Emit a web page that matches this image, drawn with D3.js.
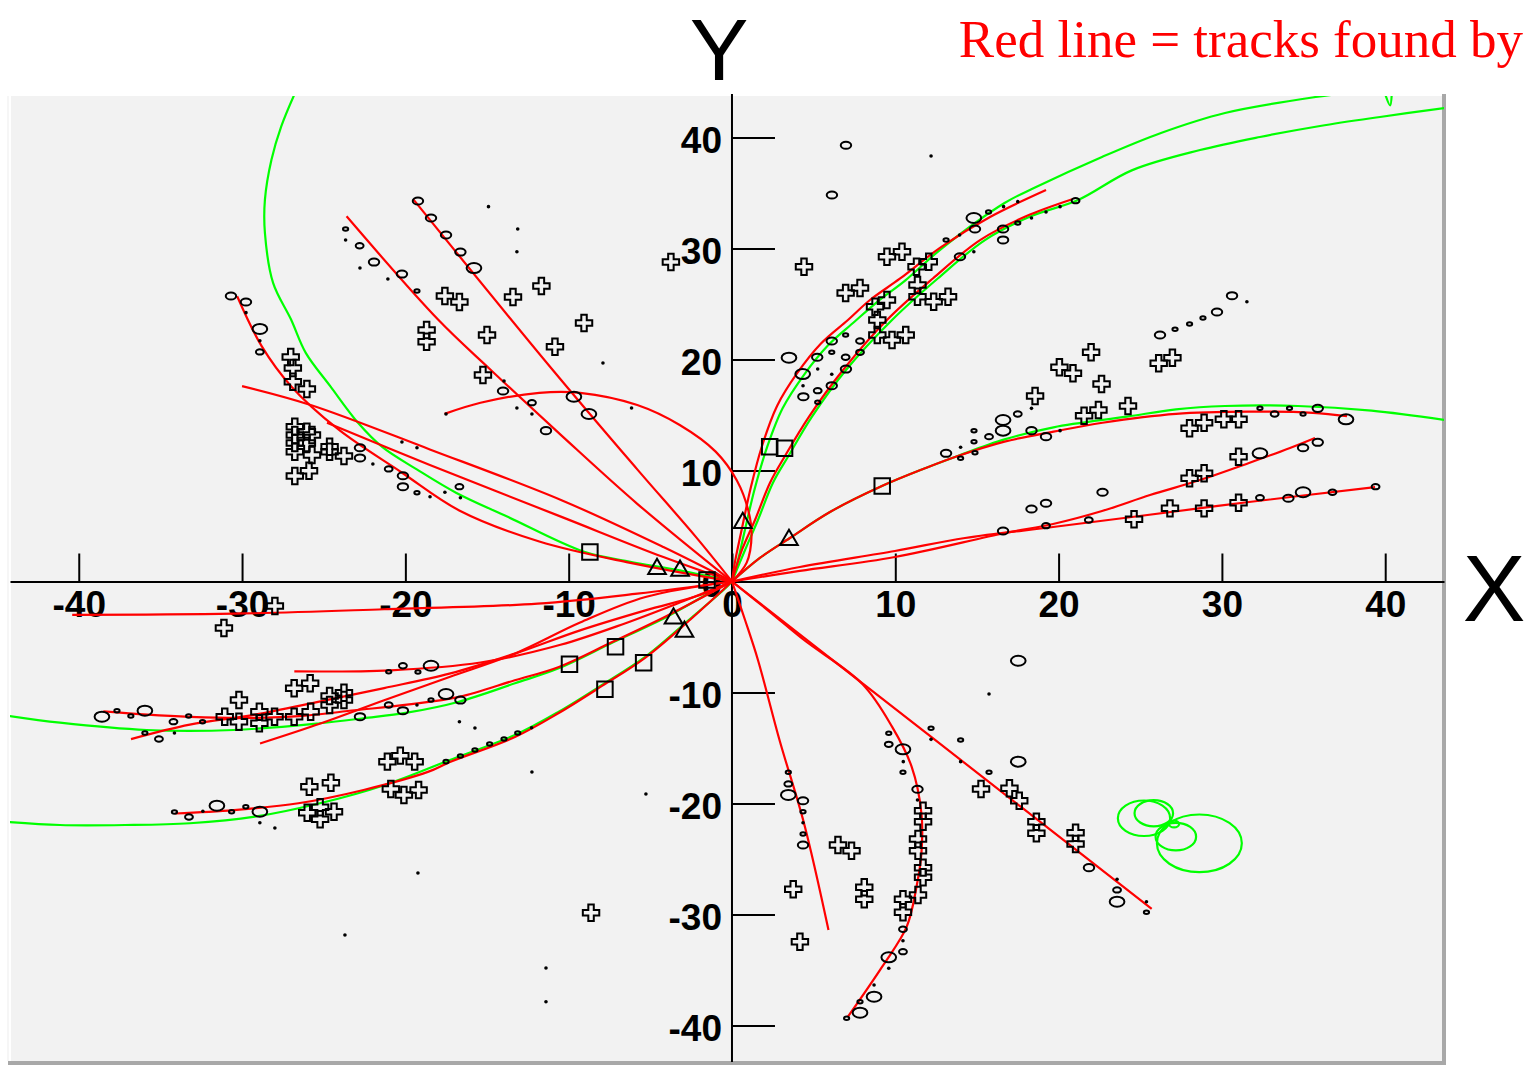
<!DOCTYPE html>
<html>
<head>
<meta charset="utf-8">
<script src="https://cdn.jsdelivr.net/npm/d3@7"></script>
<style>
  body { margin: 0; background: #ffffff; }
  svg { display: block; }
</style>
</head>
<body>
<svg id="chart" width="1527" height="1065"></svg>
<script>
// event display, x-y view: reconstructed tracks (red), simulated tracks (green), detector hits

const RED = '#ff0000';
const GREEN = '#00ff00';
const FRAME_BG = '#f2f2f2';
const FRAME_EDGE = '#a8a8a8';

const xTicks = [-40, -30, -20, -10, 0, 10, 20, 30, 40];
const yTicks = [-40, -30, -20, -10, 0, 10, 20, 30, 40];

// red: found tracks
const trackR1 = [[-19.5,34.4],[-11.0,19.1],[-5.8,10.1],[-2.2,4.0],[0,0]];
const trackR2 = [[-23.6,32.9],[-18.0,23.6],[-14.8,19.1],[-10.4,13.1],[-5.8,7.0],[0,0]];
const trackR3 = [[-30.3,25.7],[-28.8,21.2],[-27.0,17.6],[-24.1,13.7],[-20.2,9.8],[-16.7,6.4],[-11.8,3.6],[-6.3,1.7],[0,0]];
const trackR4 = [[-30.0,17.6],[-25.8,15.9],[-18.5,11.9],[-10.4,7.3],[-4.2,3.1],[0,0]];
const trackR5 = [[-24.8,14.3],[-18.5,10.5],[-10.4,5.8],[-4.2,2.2],[0,0]];
const trackR6 = [[-17.6,15.1],[-15.4,16.1],[-11.8,17.0],[-9.3,17.0],[-5.8,15.9],[-3.2,14.1],[-1.0,11.7],[0.3,9.1],[1.0,6.4],[1.2,4.2],[0.9,1.7],[0,0]];
const trackR8 = [[0,0],[0.2,1.9],[0.55,4.37],[1.16,8.51],[1.84,12.21],[2.76,15.81],[3.98,18.74],[5.45,21.44],[7.10,23.56],[8.45,25.36],[10.3,27.3],[12.8,30.13],[15.8,32.84],[19.23,35.27]];
const trackR9 = [[0,0],[0.61,2.84],[1.41,5.54],[2.33,8.9],[3.22,11.24],[4.72,14.85],[6.80,19.05],[9.49,23.56],[12.3,27.3],[15.19,30.76],[18.0,32.9],[20.88,34.46]];
const trackR10 = [[0,0],[1.71,2.12],[3.55,3.92],[6.0,6.26],[9.18,8.6],[11.82,10.2],[13.7,11.24],[16.69,12.6],[19.69,13.5],[22.69,14.3],[27.19,15.1],[31.66,15.3],[35.58,15.2],[37.66,14.9]];
const trackR11 = [[0,0],[4.16,0.95],[9.98,2.21],[16.72,4.37],[19.66,5.18],[22.66,6.35],[25.6,7.79],[28.66,9.14],[31.66,10.68],[34.17,12.03],[35.7,12.93]];
const trackR12 = [[0,0],[4.16,1.31],[9.98,2.75],[14.27,3.92],[19.66,4.91],[24.49,5.81],[31.66,7.16],[39.38,8.51]];
const trackR14 = [[-40.4,-3.0],[-30.5,-2.9],[-21.3,-2.5],[-11.9,-2.0],[-5.8,-1.1],[0,0]];
const trackR15 = [[-26.8,-8.1],[-20.9,-8.0],[-15.4,-7.3],[-10.5,-5.7],[-6.6,-3.8],[-3.2,-1.9],[0,0]];
const trackR16 = [[-38.5,-11.7],[-35.8,-12.0],[-33.2,-12.2],[-30.0,-12.3],[-26.3,-12.1],[-23.1,-11.6],[-19.9,-11.1],[-16.7,-10.4],[-13.3,-8.9],[-10.6,-7.7],[-7.4,-5.5],[-4.0,-3.1],[0,0]];
const trackRc = [[-36.8,-14.2],[-33.2,-12.9],[-29.2,-12.0],[-25.2,-10.8],[-21.3,-9.6],[-17.3,-8.3],[-13.3,-6.5],[-9.3,-4.4],[-5.3,-2.6],[-1.9,-1.2],[0,0]];
const trackRd = [[-28.9,-14.6],[-25.2,-12.8],[-21.3,-10.7],[-17.3,-8.6],[-13.3,-6.5],[-9.3,-3.7],[-5.3,-1.4],[0,0]];
const trackR17 = [[-34.1,-20.9],[-30.5,-20.6],[-26.55,-19.98],[-22.56,-18.78],[-18.58,-17.13],[-17.27,-16.26],[-13.29,-14.01],[-10.61,-11.85],[-7.96,-9.41],[-5.3,-6.85],[-2.65,-3.56],[0,0]];
const trackR18 = [[0,0],[0.8,-3.47],[1.59,-7.07],[2.91,-14.28],[4.41,-21.78],[5.91,-31.4]];
const trackR19 = [[0,0],[2.33,-2.75],[4.41,-5.27],[8.0,-9.26],[9.8,-13.08],[11.0,-16.68],[11.6,-20.88],[11.6,-24.49],[11.3,-27.5],[10.7,-31.1],[9.2,-34.7],[7.1,-39.21]];
const trackR20 = [[0,0],[12.2,-14.0],[25.7,-29.5]];

// green: simulated tracks
const trackG1 = [[0,0],[0.37,1.94],[0.75,4.37],[1.4,8.4],[2.15,12.1],[3.1,15.6],[4.4,18.6],[5.9,21.3],[7.5,23.4],[8.9,25.2],[10.6,27.1],[12.8,29.95],[16.69,34.1],[18.49,35.45],[22.69,38.27],[26.27,40.41],[30.19,42.21],[35.88,43.68],[37.66,44.01],[39.5,44.4]];
const trackG2 = [[0,0],[0.8,2.84],[1.59,5.54],[2.51,8.9],[3.43,11.24],[4.9,14.85],[6.98,19.05],[9.8,23.56],[12.6,27.3],[15.49,30.76],[18.3,32.9],[21.19,34.37],[24.48,37.04],[28.66,38.87],[32.33,40.05],[36.01,41.04],[39.68,41.85],[43.66,42.66]];
const trackG3 = [[0,0],[1.71,2.12],[3.55,3.92],[6.0,6.26],[9.18,8.6],[11.82,10.2],[13.7,11.24],[16.69,12.8],[19.69,13.89],[24.19,14.85],[27.19,15.51],[30.18,15.81],[34.66,15.81],[39.16,15.39],[43.66,14.55]];
const trackG4 = [[-26.7,44.2],[-27.6,41.0],[-28.2,38.0],[-28.6,34.4],[-28.6,31.4],[-28.1,26.9],[-27.0,23.6],[-26.1,20.6],[-24.6,17.6],[-22.9,14.3],[-21.4,12.1],[-19.3,10.1],[-16.9,8.0],[-13.7,5.8],[-9.1,2.7],[-6.3,1.8],[-3.2,1.0],[0,0]];
const trackG5 = [[-44.3,-12.1],[-41.15,-12.72],[-35.84,-13.38],[-30.53,-13.38],[-25.23,-12.77],[-22.56,-12.32],[-19.9,-11.82],[-16.72,-10.83],[-13.29,-9.17],[-10.61,-7.82],[-7.43,-5.59],[-3.98,-3.17],[-1.05,-0.77],[0,0]];
const trackG6 = [[-44.3,-21.67],[-41.15,-21.94],[-37.17,-21.94],[-33.19,-21.78],[-29.21,-21.19],[-25.23,-19.98],[-21.25,-18.33],[-17.27,-16.08],[-13.29,-13.83],[-10.61,-11.73],[-7.96,-9.32],[-5.3,-6.77],[-2.65,-3.47],[-0.52,-0.77],[0,0]];
const trackG7 = [[40.0,43.9],[40.3,42.9],[40.4,43.9]];

// green curling track, loops as [cx, cy, r]
const greenLoops = [[28.62,-23.59,2.6],[25.23,-21.33,1.6],[25.83,-20.88,1.18],[27.18,-22.99,1.24],[27.07,-21.85,0.31]];

const redTracks = [trackR1, trackR2, trackR3, trackR4, trackR5, trackR6, trackR8, trackR9, trackR10, trackR11, trackR12,
                   trackR14, trackR15, trackR16, trackRc, trackRd, trackR17, trackR18, trackR19, trackR20];
const greenTracks = [trackG1, trackG2, trackG3, trackG4, trackG5, trackG6, trackG7];

// hits: [x, y, size class]
const ringHits = [
  [-19.23,34.28,3],[-18.43,32.75,3],[-17.51,31.22,3],[-16.63,29.68,3],[-15.80,28.24,4],
  [-23.66,31.76,1],[-22.80,30.25,2],[-21.92,28.78,3],[-20.21,27.70,3],[-19.29,26.17,1],
  [-30.68,25.72,3],[-29.76,25.18,3],[-28.91,22.75,4],[-28.91,20.68,2],[-22.78,12.05,3],[-22.78,11.13,3],
  [-21.02,10.14,2],[-20.15,9.53,3],[-20.15,8.54,3],[-19.29,8.00,1],[-16.69,8.54,2],
  [-14.02,17.16,3],[-12.25,16.11,2],[-9.68,16.65,4],[-8.76,15.09,4],[-11.39,13.59,3],
  [6.98,39.30,3],[6.12,34.82,3],
  [3.49,20.16,4],[4.33,18.69,4],[5.22,20.20,3],[6.11,21.67,3],[6.96,22.21,1],[6.11,20.65,1],[4.37,16.65,3],
  [5.25,16.14,1],[5.25,17.19,2],[6.11,17.64,3],[6.98,19.14,3],[6.96,20.20,2],[7.84,21.67,2],[7.84,20.65,2],
  [14.81,32.75,4],[15.71,33.29,1],[14.88,31.76,3],[16.60,31.76,3],[16.60,30.77,3],[13.96,29.26,3],[17.50,32.30,1],
  [21.04,34.31,2],[13.11,30.77,1],
  [13.11,11.55,3],[14.00,11.10,1],[14.88,11.60,1],[14.82,12.59,1],[14.82,13.59,1],[15.74,13.05,2],[16.60,13.59,4],
  [16.60,14.55,4],[17.50,15.09,2],[18.34,13.59,3],[19.23,13.05,3],
  [32.33,15.60,1],[33.23,15.09,2],[34.14,15.60,1],[34.97,15.09,1],[35.87,15.60,3],[37.60,14.61,4],
  [26.21,22.21,3],[27.13,22.72,1],[28.02,23.20,1],[30.62,25.75,3],[29.70,24.28,3],[28.84,23.74,1],
  [32.33,11.55,4],[34.97,12.05,3],[35.87,12.54,3],[22.69,8.04,3],[18.34,6.53,3],[19.23,7.05,3],[16.60,4.55,3],
  [19.23,5.03,2],[21.85,5.54,2],[34.07,7.50,3],[34.97,8.04,4],[36.77,8.04,2],[39.41,8.54,2],[32.33,7.55,2],
  [17.53,-7.14,4],[17.53,-16.23,4],[12.19,-13.23,1],[14.00,-14.28,1],[15.74,-17.19,1],[21.86,-25.78,3],
  [23.58,-27.79,2],[23.58,-28.85,4],[25.38,-29.80,1],
  [9.60,-13.68,1],[9.60,-14.67,2],[10.47,-15.12,4],[10.47,-17.19,1],[11.36,-18.72,3],
  [3.45,-17.19,1],[3.45,-18.24,2],[3.45,-19.23,4],[4.35,-19.75,3],[4.35,-20.74,1],[4.35,-22.75,1],[4.35,-23.74,3],
  [10.47,-31.33,2],[10.47,-33.35,2],[9.60,-33.86,4],[8.70,-37.41,4],[7.84,-38.85,4],[7.84,-37.86,1],[7.02,-39.35,1],
  [-38.58,-12.18,4],[-37.66,-11.64,1],[-36.81,-12.12,1],[-35.95,-11.64,4],[-34.20,-12.63,2],[-35.09,-14.19,2],
  [-35.95,-13.65,1],[-32.42,-12.63,1],[-33.27,-12.12,1],
  [-21.02,-8.13,1],[-20.15,-7.59,2],[-19.23,-8.15,1],[-18.43,-7.59,4],[-21.02,-11.13,2],[-20.15,-11.64,3],
  [-18.43,-10.68,1],[-17.51,-10.14,4],[-16.63,-10.68,3],[-22.78,-12.18,3],
  [-34.14,-20.77,1],[-33.25,-21.22,2],[-31.54,-20.20,4],[-30.64,-20.74,1],[-29.77,-20.29,1],[-28.91,-20.74,4],
  [-17.51,-16.23,1],[-16.63,-15.72,1],[-15.74,-15.18,1],[-14.84,-14.64,1],[-13.96,-14.19,1],[-13.12,-13.65,1]
];

const dotHits = [
  [-23.66,30.77],[-21.07,27.25],[-22.78,28.24],[-14.91,33.77],[-13.17,29.71],[-13.12,31.76],
  [-29.76,24.22],[-28.91,21.69],
  [-20.21,12.57],[-19.29,12.05],[-21.99,10.59],[-16.63,7.55],[-18.49,7.64],[-17.58,8.04],[-17.51,15.09],[-13.96,18.07],
  [-7.90,19.68],[-13.17,15.63],[-12.25,15.09],[-6.15,15.63],
  [12.19,38.33],
  [5.25,19.14],[6.11,18.67],[4.35,17.64],
  [14.81,29.71],[18.34,32.75],[19.23,33.29],[20.09,33.77],[16.63,33.77],[17.50,34.22],[13.94,31.22],
  [18.34,15.60],[20.09,13.59],[14.00,12.09],[31.53,25.21],
  [15.74,-10.14],[4.35,-21.73],[10.47,-32.36],[9.60,-34.85],[8.70,-36.35],[12.19,-14.22],[14.00,-16.23],
  [10.49,-16.23],[11.36,-19.68],[25.38,-28.85],[23.58,-26.83],
  [-34.14,-13.65],[-16.69,-12.63],[-15.74,-13.20],[-19.29,-11.13],[-28.91,-21.73],[-27.99,-22.21],[-12.25,-17.16],
  [-5.27,-19.14],[-19.23,-26.26],[-23.70,-31.85],[-11.39,-34.82],[-11.39,-37.86],[-12.27,-13.17],[-32.4,-20.7]
];

const crossHits = [
  [-17.58,25.72],[-16.69,25.18],[-13.41,25.63],[-11.67,26.62],[-3.74,28.78],[-9.06,23.29],[-18.70,22.66],[-18.70,21.60],
  [-15.00,22.21],[-10.84,21.15],[-15.25,18.60],
  [-27.02,20.23],[-26.89,19.23],[-26.89,18.00],[-26.03,17.34],
  [-26.77,13.95],[-26.77,13.20],[-26.03,13.50],[-25.72,13.20],[-26.77,12.48],[-26.03,12.48],[-26.77,11.69],[-25.72,11.40],
  [-24.64,12.14],[-24.64,11.69],[-23.76,11.31],[-26.77,9.51],[-25.90,9.98],
  [-27.99,-2.21],[-31.11,-4.19],
  [-30.19,-10.68],[-26.81,-9.62],[-25.83,-9.17],[-31.06,-12.18],[-30.19,-12.63],[-28.94,-11.73],[-28.94,-12.77],
  [-28.01,-12.18],[-26.81,-12.18],[-25.80,-11.73],[-24.64,-10.32],[-23.76,-10.02],[-24.64,-11.13],[-23.76,-10.68],
  [-21.10,-16.23],[-20.31,-15.69],[-19.43,-16.23],[-25.88,-18.49],[-24.56,-18.13],[-20.89,-18.69],[-20.09,-19.23],
  [-19.19,-18.78],[-26.01,-20.83],[-25.22,-20.34],[-24.37,-20.74],[-25.22,-21.42],
  [-8.63,-29.84],
  [4.41,28.36],[9.49,29.26],[10.41,29.71],[11.30,28.36],[12.05,28.81],[11.36,26.71],[6.96,25.99],[7.84,26.44],
  [8.76,24.76],[9.49,25.36],[11.36,25.66],[12.35,25.21],[13.23,25.66],[8.90,23.56],[8.90,22.21],[9.80,21.76],[10.64,22.21],
  [18.56,16.71],[20.05,19.30],[20.88,18.76],[21.99,20.65],[22.63,17.79],[24.25,15.81],[21.56,14.94],[22.44,15.45],
  [26.13,19.66],[26.97,20.16],[28.02,13.80],[28.91,14.31],[30.12,14.61],[31.02,14.61],
  [31.02,11.24],[28.02,9.30],[28.91,9.75],[24.62,5.60],[26.82,6.59],[28.91,6.59],[31.02,7.10],
  [15.25,-18.69],[16.99,-18.63],[17.59,-19.75],[18.64,-21.64],[18.64,-22.68],[21.04,-22.63],[21.04,-23.65],
  [11.70,-20.65],[11.70,-21.64],[11.39,-23.20],[11.39,-24.25],[11.70,-25.78],[11.70,-26.65],[11.39,-28.24],
  [10.47,-28.63],[10.47,-29.80],[6.49,-23.74],[7.32,-24.25],[8.10,-27.55],[8.10,-28.63],[3.75,-27.73],[4.16,-32.45]
];

const squareHits = [[-8.70,2.66],[2.31,12.14],[3.22,12.00],[9.20,8.60],[-9.95,-7.46],[-7.13,-5.87],[-5.41,-7.32],[-7.78,-9.71],[-1.53,0.14]];
const triangleHits = [[-4.59,1.13],[-3.18,0.97],[-3.58,-3.32],[-2.91,-4.52],[3.49,3.74],[0.66,5.27]];

// ---------------------------------------------------------------

const plot = {left: 10, top: 96, right: 1444, bottom: 1061};

const x = d3.scaleLinear().domain([-44.21, 43.60]).range([plot.left, plot.right]);
const y = d3.scaleLinear().domain([-43.20, 43.74]).range([plot.bottom, plot.top]);
const ringR = d3.scaleOrdinal().domain([1, 2, 3, 4]).range([0.16, 0.24, 0.32, 0.45]);

const svg = d3.select('#chart');

svg.append('defs').append('clipPath').attr('id', 'clip')
  .append('rect')
  .attr('x', plot.left).attr('y', plot.top)
  .attr('width', plot.right - plot.left).attr('height', plot.bottom - plot.top);

// frame
svg.append('rect')
  .attr('x', 11).attr('y', 96).attr('width', 1431).attr('height', 965)
  .attr('fill', FRAME_BG);
svg.append('rect')
  .attr('x', 1442).attr('y', 94).attr('width', 4).attr('height', 971)
  .attr('fill', FRAME_EDGE);
svg.append('rect')
  .attr('x', 8).attr('y', 1061).attr('width', 1438).attr('height', 4)
  .attr('fill', FRAME_EDGE);
svg.append('rect')
  .attr('x', 7).attr('y', 96).attr('width', 2).attr('height', 965)
  .attr('fill', '#f6f6f6');

// axes
const labelFont = "bold 37px 'Liberation Sans', Arial, sans-serif";
const minorX = d3.range(-44, 44, 2).filter(v => v % 10 !== 0);
const minorY = d3.range(-42, 44, 2).filter(v => v % 10 !== 0);

const gx = svg.append('g').attr('transform', `translate(0,${y(0)})`);
gx.call(d3.axisTop(x).tickValues(minorX).tickSize(14).tickSizeOuter(0).tickFormat(''));
gx.call(d3.axisTop(x).tickValues(xTicks).tickSize(28).tickSizeOuter(0).tickFormat(d => String(d)));
gx.selectAll('path.domain').attr('stroke-width', 2).attr('stroke', '#000');
gx.selectAll('.tick line').attr('stroke-width', 2).attr('stroke', '#000');
gx.selectAll('.tick text')
  .attr('y', 36).attr('dy', '0')
  .style('font', labelFont).attr('fill', '#000');

const gy = svg.append('g').attr('transform', `translate(${x(0)},0)`);
gy.call(d3.axisRight(y).tickValues(minorY).tickSize(21).tickSizeOuter(0).tickFormat(''));
gy.call(d3.axisRight(y).tickValues(yTicks).tickSize(43).tickSizeOuter(0).tickFormat(d => String(d)));
gy.selectAll('path.domain').attr('stroke-width', 2).attr('stroke', '#000')
  .attr('d', `M0,${plot.top - 2}V${plot.bottom + 1}`);
gy.selectAll('.tick line').attr('stroke-width', 2).attr('stroke', '#000');
gy.selectAll('.tick text')
  .attr('x', -10).attr('dy', '0.4em')
  .attr('text-anchor', 'end')
  .style('font', labelFont).attr('fill', '#000');

// tracks
const line = d3.line()
  .x(d => x(d[0]))
  .y(d => y(d[1]))
  .curve(d3.curveCatmullRom.alpha(0.5));

const gTracks = svg.append('g').attr('clip-path', 'url(#clip)').attr('fill', 'none');

gTracks.selectAll('path.green')
  .data(greenTracks)
  .join('path')
  .attr('class', 'green')
  .attr('d', line)
  .attr('stroke', GREEN)
  .attr('stroke-width', 2.2);

gTracks.selectAll('ellipse.loop')
  .data(greenLoops)
  .join('ellipse')
  .attr('class', 'loop')
  .attr('cx', d => x(d[0]))
  .attr('cy', d => y(d[1]))
  .attr('rx', d => x(d[2]) - x(0))
  .attr('ry', d => y(0) - y(d[2]))
  .attr('stroke', GREEN)
  .attr('stroke-width', 2.2);

gTracks.selectAll('path.red')
  .data(redTracks)
  .join('path')
  .attr('class', 'red')
  .attr('d', line)
  .attr('stroke', RED)
  .attr('stroke-width', 2.2);

// hits
const gHits = svg.append('g').attr('stroke', '#000').attr('fill', 'none').attr('stroke-width', 2);

gHits.selectAll('ellipse.ring')
  .data(ringHits)
  .join('ellipse')
  .attr('class', 'ring')
  .attr('cx', d => x(d[0]))
  .attr('cy', d => y(d[1]))
  .attr('rx', d => x(ringR(d[2])) - x(0))
  .attr('ry', d => y(0) - y(ringR(d[2])));

gHits.selectAll('circle.dot')
  .data(dotHits)
  .join('circle')
  .attr('class', 'dot')
  .attr('cx', d => x(d[0]))
  .attr('cy', d => y(d[1]))
  .attr('r', 1.8)
  .attr('fill', '#000')
  .attr('stroke', 'none');

const symCross = d3.symbol(d3.symbolCross, 150);
const symSquare = d3.symbol(d3.symbolSquare, 240);
const symTriangle = d3.symbol(d3.symbolTriangle, 135);

gHits.selectAll('path.cross')
  .data(crossHits)
  .join('path')
  .attr('class', 'cross')
  .attr('d', symCross)
  .attr('transform', d => `translate(${x(d[0])},${y(d[1])})`);

gHits.selectAll('path.square')
  .data(squareHits)
  .join('path')
  .attr('class', 'square')
  .attr('d', symSquare)
  .attr('transform', d => `translate(${x(d[0])},${y(d[1])})`);

gHits.selectAll('path.triangle')
  .data(triangleHits)
  .join('path')
  .attr('class', 'triangle')
  .attr('d', symTriangle)
  .attr('transform', d => `translate(${x(d[0])},${y(d[1])})`);

// titles
svg.append('text')
  .attr('x', 1494).attr('y', 621)
  .attr('text-anchor', 'middle')
  .style('font', "94px 'Liberation Sans', Arial, sans-serif")
  .text('X');

svg.append('text')
  .attr('x', 719).attr('y', 80)
  .attr('text-anchor', 'middle')
  .style('font', "88px 'Liberation Sans', Arial, sans-serif")
  .text('Y');

svg.append('text')
  .attr('x', 1523).attr('y', 57)
  .attr('text-anchor', 'end')
  .attr('fill', RED)
  .style('font', "53px 'Liberation Serif', 'Times New Roman', serif")
  .text('Red line = tracks found by');
</script>
</body>
</html>
